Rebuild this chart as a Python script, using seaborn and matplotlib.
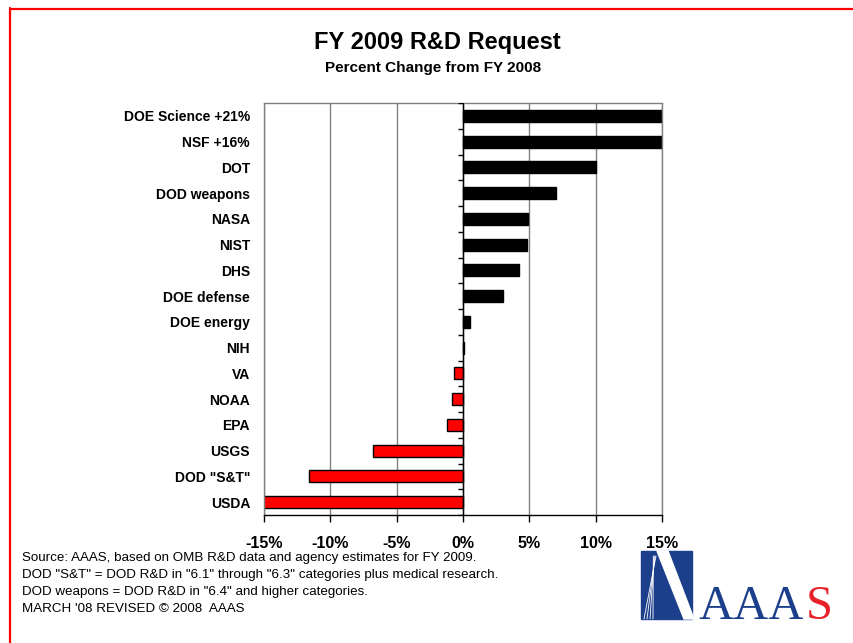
import numpy as np
import pandas as pd
import matplotlib.pyplot as plt
import seaborn as sns
from matplotlib.patches import Rectangle, Polygon
from matplotlib.lines import Line2D

# data (bars beyond +/-15% are clipped by the axis)
agencies = ["DOE Science +21%", "NSF +16%", "DOT", "DOD weapons", "NASA", "NIST", "DHS",
            "DOE defense", "DOE energy", "NIH", "VA", "NOAA", "EPA", "USGS", 'DOD "S&T"', "USDA"]
pct_change = [21.0, 16.0, 10.0, 7.0, 4.9, 4.8, 4.2, 3.0, 0.5, 0.1,
              -0.7, -0.8, -1.2, -6.8, -11.6, -15.1]
x_ticks = [-15, -10, -5, 0, 5, 10, 15]
x_tick_labels = ["-15%", "-10%", "-5%", "0%", "5%", "10%", "15%"]
notes = [
    "Source: AAAS, based on OMB R&D data and agency estimates for FY 2009.",
    'DOD "S&T" = DOD R&D in "6.1" through "6.3" categories plus medical research.',
    'DOD weapons = DOD R&D in "6.4" and higher categories.',
    "MARCH '08 REVISED \u00a9 2008  AAAS",
]

sns.set_style("white")
plt.rcParams['font.family'] = ['Liberation Sans', 'DejaVu Sans']
plt.rcParams['text.color'] = 'black'
plt.rcParams['xtick.color'] = 'black'
plt.rcParams['ytick.color'] = 'black'

df = pd.DataFrame({"agency": agencies, "change": pct_change})
df["sign"] = np.where(df["change"] >= 0, "up", "down")

W, H = 854, 643
fig = plt.figure(figsize=(W / 100, H / 100), dpi=100)
ax = fig.add_axes([264 / W, 1 - 515 / H, (662 - 264) / W, (515 - 103) / H])

sns.barplot(data=df, x="change", y="agency", hue="sign",
            palette={"up": "black", "down": "#ff0000"}, saturation=1, orient="h",
            width=0.47, dodge=False, legend=False,
            edgecolor="black", linewidth=1, ax=ax)

ax.set_xlim(-15, 15)
ax.set_ylim(len(agencies) - 0.5, -0.5)
ax.set_xticks(x_ticks)
ax.set_xticklabels(x_tick_labels)
ax.set_xlabel("")
ax.set_ylabel("")
ax.set_axisbelow(True)
ax.xaxis.grid(True, color="#808080", linewidth=1)

# vertical axis crossing at 0 with ticks between categories
ax.axvline(0, color="black", linewidth=1, zorder=3)
ax.hlines(np.arange(len(agencies) + 1) - 0.5, -0.4, 0, color="black", linewidth=1, zorder=3)

for side in ["left", "top", "right"]:
    ax.spines[side].set_color("#808080")
    ax.spines[side].set_linewidth(1)
ax.spines["bottom"].set_color("black")
ax.spines["bottom"].set_linewidth(1)

ax.tick_params(axis="y", length=0, pad=10, labelsize=10)
ax.tick_params(axis="x", length=5, width=1, direction="out", color="black", pad=10, labelsize=11.5)
ax.xaxis.set_ticks_position("bottom")
for lab in ax.get_yticklabels() + ax.get_xticklabels():
    lab.set_fontweight("bold")

fig.text(437 / W, 1 - 43 / H, "FY 2009 R&D Request", ha="center", va="center",
         fontsize=17, fontweight="bold")
fig.text(433 / W, 1 - 68 / H, "Percent Change from FY 2008", ha="center", va="center",
         fontsize=11, fontweight="bold")

for i, line in enumerate(notes):
    fig.text(22 / W, 1 - (558 + i * 17) / H, line, ha="left", va="center", fontsize=9.6)

# red page border (left and top edges visible)
fig.add_artist(Line2D([10.5 / W, 10.5 / W], [0, 1 - 8 / H], color="red", linewidth=1.6))
fig.add_artist(Line2D([10 / W, 1], [1 - 8.5 / H, 1 - 8.5 / H], color="red", linewidth=1.6))

# AAAS logo
navy = "#1c3f8c"
fig.add_artist(Rectangle((641 / W, 1 - 619 / H), 51 / W, 68 / H, color=navy, transform=fig.transFigure))
fig.add_artist(Polygon([(657 / W, 1 - 551 / H), (668 / W, 1 - 551 / H),
                        (694 / W, 1 - 619 / H), (684 / W, 1 - 619 / H)],
                       closed=True, color="white", transform=fig.transFigure))
for dx in [0, 3, 6, 9]:
    fig.add_artist(Line2D([(656 - dx * 0.3) / W, (644 + dx) / W], [1 - 556 / H, 1 - 619 / H],
                          color="white", linewidth=0.6))
fig.text(699 / W, 1 - 619 / H, "AAA", ha="left", va="baseline", fontsize=35,
         family=["Liberation Serif", "DejaVu Serif"], color=navy)
fig.text(806 / W, 1 - 619 / H, "S", ha="left", va="baseline", fontsize=35,
         family=["Liberation Serif", "DejaVu Serif"], color="#e8202a")

fig.savefig("out.png", dpi=100)
